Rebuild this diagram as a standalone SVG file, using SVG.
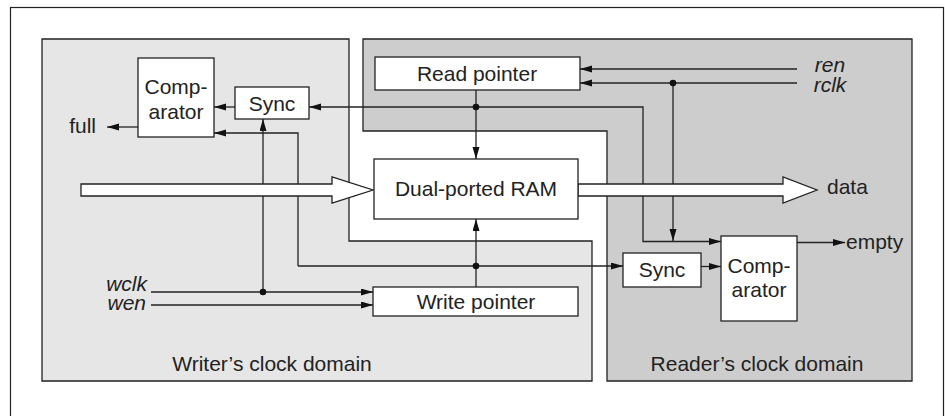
<svg xmlns="http://www.w3.org/2000/svg" width="945" height="416" viewBox="0 0 945 416">
<defs>
<style>
.ln{fill:none;stroke:#222;stroke-width:1.3}
.box{fill:#fff;stroke:#222;stroke-width:1.3}
.t{font-family:"Liberation Sans",Arial,Helvetica,sans-serif;font-size:21px;fill:#222}
.c{text-anchor:middle}
.e{text-anchor:end}
.i{font-style:italic}
.dot{fill:#111}
.fat{fill:#fff;stroke:#222;stroke-width:1.3;stroke-linejoin:miter}
</style>
<marker id="ah" markerUnits="userSpaceOnUse" markerWidth="12" markerHeight="8" refX="12" refY="3.5" orient="auto">
<path d="M0,0 L12,3.5 L0,7 z" fill="#111"/>
</marker>
</defs>
<rect width="945" height="416" fill="#fff"/>
<rect x="10.5" y="7.5" width="933" height="420" fill="none" stroke="#222" stroke-width="1.2"/>
<g id="writer-domain">
<path d="M42,39 H349 V241 H592 V381 H42 Z" fill="#e6e6e6" stroke="#222" stroke-width="1.3"/>
<text class="t c" x="272" y="371">Writer’s clock domain</text>
</g>
<g id="reader-domain">
<path d="M363,39 H912 V381 H607 V131 H363 Z" fill="#cdcdcd" stroke="#222" stroke-width="1.3"/>
<text class="t c" x="757" y="371">Reader’s clock domain</text>
</g>
<g id="connectors">
<path class="ln" d="M476,90 V159" marker-end="url(#ah)"/>
<path class="ln" d="M476,107 H309" marker-end="url(#ah)"/>
<path class="ln" d="M476,107 H643 V241.5 H721" marker-end="url(#ah)"/>
<path class="ln" d="M797,69 H580" marker-end="url(#ah)"/>
<path class="ln" d="M797,83 H580" marker-end="url(#ah)"/>
<path class="ln" d="M673,83 V241" marker-end="url(#ah)"/>
<path class="ln" d="M235,107 H214" marker-end="url(#ah)"/>
<path class="ln" d="M138,127 H107" marker-end="url(#ah)"/>
<path class="ln" d="M263,292 V119" marker-end="url(#ah)"/>
<path class="ln" d="M298,266 V133 H214" marker-end="url(#ah)"/>
<path class="ln" d="M151,292 H373" marker-end="url(#ah)"/>
<path class="ln" d="M151,305 H373" marker-end="url(#ah)"/>
<path class="ln" d="M476,287 V219" marker-end="url(#ah)"/>
<path class="ln" d="M298,266 H623" marker-end="url(#ah)"/>
<path class="ln" d="M701,266.5 H721" marker-end="url(#ah)"/>
<path class="ln" d="M797,242.5 H845" marker-end="url(#ah)"/>
<circle class="dot" cx="476" cy="107" r="3.3"/>
<circle class="dot" cx="673" cy="83" r="3.3"/>
<circle class="dot" cx="263" cy="292" r="3.3"/>
<circle class="dot" cx="476" cy="266" r="3.3"/>
<path class="fat" d="M81,184 H332 V177 L373,190 L332,203 V196 H81 Z"/>
<path class="fat" d="M578,184 H783 V177 L817,190 L783,203 V196 H578 Z"/>
</g>
<g id="read-pointer">
<rect class="box" x="375" y="57" width="205" height="33"/>
<text class="t c" x="477" y="81">Read pointer</text>
</g>
<g id="dual-ported-ram">
<rect class="box" x="374" y="159" width="204" height="60"/>
<text class="t c" x="476" y="196">Dual-ported RAM</text>
</g>
<g id="write-pointer">
<rect class="box" x="373" y="287" width="205" height="29"/>
<text class="t c" x="476" y="309">Write pointer</text>
</g>
<g id="comparator-full">
<rect class="box" x="138" y="58" width="76" height="79"/>
<text class="t c" x="176" y="94">Comp-</text>
<text class="t c" x="176" y="119">arator</text>
</g>
<g id="sync-writer">
<rect class="box" x="235" y="87" width="74" height="32"/>
<text class="t c" x="272" y="111">Sync</text>
</g>
<g id="sync-reader">
<rect class="box" x="623" y="253" width="78" height="34"/>
<text class="t c" x="662" y="277">Sync</text>
</g>
<g id="comparator-empty">
<rect class="box" x="721" y="236" width="76" height="85"/>
<text class="t c" x="759" y="273">Comp-</text>
<text class="t c" x="759" y="297">arator</text>
</g>
<g id="labels">
<text class="t e" x="96" y="133">full</text>
<text class="t" x="827" y="194">data</text>
<text class="t" x="846" y="249">empty</text>
<text class="t c i" x="830" y="72">ren</text>
<text class="t c i" x="830" y="92">rclk</text>
<text class="t e i" x="147" y="291">wclk</text>
<text class="t e i" x="146" y="310">wen</text>
</g>
</svg>
